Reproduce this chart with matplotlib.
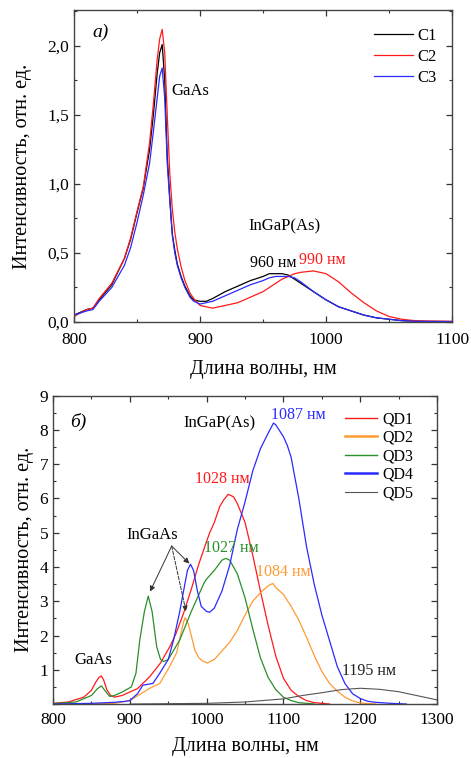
import matplotlib
matplotlib.use("Agg")
import matplotlib.pyplot as plt
from matplotlib.ticker import MultipleLocator, FuncFormatter

plt.rcParams['font.family'] = ['Liberation Serif', 'DejaVu Serif']
plt.rcParams['mathtext.fontset'] = 'stix'

# ---- panel a) data ----
wl_a = [800, 810, 815, 820, 830, 840, 845, 850, 855, 860, 863, 866, 868, 870, 872, 874,
        876, 878, 880, 882, 885, 888, 892, 895, 900, 905, 910, 920, 930, 940, 950, 955,
        960, 965, 970, 975, 980, 990, 1000, 1010, 1020, 1030, 1040, 1050, 1060, 1070,
        1080, 1100]
c1 = [0.05, 0.09, 0.10, 0.16, 0.27, 0.46, 0.60, 0.79, 0.97, 1.25, 1.50, 1.80, 1.95, 2.01,
      1.75, 1.20, 0.90, 0.64, 0.52, 0.42, 0.33, 0.26, 0.19, 0.16, 0.15, 0.15, 0.17, 0.22,
      0.26, 0.30, 0.33, 0.35, 0.35, 0.35, 0.34, 0.31, 0.28, 0.22, 0.16, 0.11, 0.08, 0.05,
      0.03, 0.02, 0.01, 0.006, 0.004, 0.003]
c2 = [0.04, 0.09, 0.10, 0.17, 0.28, 0.46, 0.61, 0.80, 0.98, 1.30, 1.58, 1.90, 2.05, 2.12,
      1.95, 1.50, 1.08, 0.82, 0.65, 0.53, 0.40, 0.30, 0.21, 0.17, 0.12, 0.11, 0.10, 0.12,
      0.14, 0.18, 0.22, 0.25, 0.28, 0.31, 0.33, 0.35, 0.36, 0.37, 0.35, 0.29, 0.21, 0.14,
      0.08, 0.04, 0.02, 0.01, 0.007, 0.005]
c3 = [0.05, 0.08, 0.09, 0.15, 0.25, 0.41, 0.54, 0.72, 0.92, 1.15, 1.38, 1.62, 1.78, 1.84,
      1.62, 1.15, 0.88, 0.63, 0.50, 0.41, 0.32, 0.25, 0.18, 0.15, 0.13, 0.14, 0.15, 0.19,
      0.23, 0.27, 0.30, 0.32, 0.33, 0.33, 0.33, 0.32, 0.29, 0.22, 0.16, 0.11, 0.08, 0.05,
      0.03, 0.02, 0.01, 0.006, 0.004, 0.003]

# ---- panel б) data ----
qd1_x = [800, 820, 840, 850, 856, 860, 863, 866, 870, 875, 880, 890, 896, 910, 926, 940,
         952, 960, 970, 980, 990, 1000, 1004, 1010, 1017, 1022, 1028, 1035, 1040, 1050,
         1060, 1070, 1080, 1090, 1100, 1110, 1120, 1130, 1140, 1160]
qd1_y = [0.02, 0.06, 0.20, 0.40, 0.65, 0.78, 0.82, 0.70, 0.42, 0.25, 0.20, 0.25, 0.31,
         0.45, 0.80, 1.20, 1.67, 2.05, 2.65, 3.35, 4.10, 4.75, 5.00, 5.30, 5.76, 5.95,
         6.12, 6.05, 5.85, 5.30, 4.35, 3.30, 2.30, 1.40, 0.75, 0.40, 0.22, 0.10, 0.04, 0.0]
qd2_x = [800, 880, 900, 926, 939, 952, 961, 966, 970, 972, 976, 980, 985, 990, 995, 1001,
         1010, 1020, 1030, 1040, 1050, 1060, 1070, 1080, 1086, 1090, 1100, 1110, 1120,
         1130, 1140, 1150, 1160, 1170, 1180, 1190, 1200, 1220]
qd2_y = [0.0, 0.02, 0.10, 0.46, 0.60, 1.10, 1.50, 2.00, 2.40, 2.52, 2.35, 2.00, 1.55,
         1.35, 1.25, 1.20, 1.30, 1.55, 1.80, 2.15, 2.60, 3.00, 3.25, 3.45, 3.52, 3.40,
         3.20, 2.85, 2.45, 1.95, 1.42, 0.95, 0.60, 0.38, 0.20, 0.09, 0.03, 0.0]
qd3_x = [800, 830, 850, 858, 863, 868, 874, 880, 890, 902, 908, 913, 919, 924, 929, 935,
         940, 944, 950, 965, 980, 990, 997, 1000, 1010, 1020, 1025, 1030, 1040, 1050,
         1060, 1070, 1080, 1090, 1100, 1110, 1120, 1140]
qd3_y = [0.01, 0.06, 0.25, 0.45, 0.53, 0.38, 0.22, 0.25, 0.35, 0.50, 0.90, 1.87, 2.70,
         3.15, 2.70, 1.67, 1.30, 1.24, 1.30, 1.87, 2.70, 3.20, 3.55, 3.65, 3.90, 4.20,
         4.25, 4.20, 3.80, 3.10, 2.20, 1.35, 0.78, 0.42, 0.20, 0.10, 0.04, 0.0]
qd4_x = [800, 850, 880, 895, 900, 910, 917, 930, 939, 950, 957, 965, 970, 975, 979, 983,
         988, 993, 1000, 1004, 1010, 1020, 1030, 1040, 1050, 1060, 1070, 1080, 1087, 1090,
         1100, 1105, 1110, 1120, 1130, 1140, 1150, 1160, 1170, 1180, 1190, 1200, 1210,
         1220, 1240, 1260]
qd4_y = [0.0, 0.02, 0.05, 0.08, 0.10, 0.30, 0.55, 0.60, 0.90, 1.30, 1.87, 2.70, 3.30,
         3.90, 4.08, 3.90, 3.30, 2.85, 2.70, 2.68, 2.80, 3.30, 4.05, 5.10, 5.90, 6.80,
         7.45, 7.90, 8.20, 8.15, 7.80, 7.55, 7.20, 6.00, 4.60, 3.50, 2.60, 1.85, 1.10,
         0.60, 0.30, 0.16, 0.08, 0.05, 0.02, 0.0]
qd5_x = [900, 950, 1000, 1050, 1100, 1125, 1150, 1175, 1200, 1225, 1250, 1275, 1300]
qd5_y = [0.0, 0.01, 0.02, 0.06, 0.15, 0.25, 0.33, 0.42, 0.46, 0.43, 0.36, 0.24, 0.12]


def style_axes(ax, xpad):
    ax.tick_params(which='both', direction='in', top=True, right=True,
                   color='#333333', labelsize=12.5)
    ax.tick_params(axis='x', pad=xpad)
    ax.tick_params(which='major', length=4.5, width=0.9)
    ax.tick_params(which='minor', length=2.5, width=0.8)
    for s in ax.spines.values():
        s.set_color('#444444')
        s.set_linewidth(1.0)


fig = plt.figure(figsize=(4.71, 7.58), dpi=100)

# ---------------- panel a) ----------------
ax = fig.add_axes([0.157, 0.5752, 0.803, 0.4116])
ax.plot(wl_a, c1, color='k', lw=0.9, label='C1')
ax.plot(wl_a, c2, color='#ff1a1a', lw=0.9, label='C2')
ax.plot(wl_a, c3, color='#2a2aff', lw=0.9, label='C3')
ax.set_xlim(800, 1100)
ax.set_ylim(0, 2.26)
ax.xaxis.set_major_locator(MultipleLocator(100))
ax.xaxis.set_minor_locator(MultipleLocator(50))
ax.yaxis.set_major_locator(MultipleLocator(0.5))
ax.yaxis.set_minor_locator(MultipleLocator(0.25))
ax.yaxis.set_major_formatter(FuncFormatter(lambda v, p: ('%.1f' % v).replace('.', ',')))
style_axes(ax, 7)
ax.set_xlabel('Длина волны, нм', fontsize=14.5, labelpad=9)
ax.set_ylabel('Интенсивность, отн. ед.', fontsize=14.5, labelpad=11)
ax.text(821, 2.10, 'а)', fontsize=14, style='italic', ha='center', va='center')
ax.text(892, 1.67, 'GaAs', fontsize=12, ha='center', va='center')
ax.text(967, 0.69, 'InGaP(As)', fontsize=12, ha='center', va='center')
ax.text(958, 0.43, '960 нм', fontsize=11.5, ha='center', va='center')
ax.text(997, 0.45, '990 нм', fontsize=11.5, ha='center', va='center', color='#ff1a1a')
ax.legend(loc='upper right', frameon=False, fontsize=12, handlelength=2.3,
          handletextpad=0.3, labelspacing=0.3, bbox_to_anchor=(1.0, 0.99))

# ---------------- panel б) ----------------
bx = fig.add_axes([0.1125, 0.0712, 0.8155, 0.4068])
bx.plot(qd1_x, qd1_y, color='#ff1a1a', lw=0.9, label='QD1')
bx.plot(qd2_x, qd2_y, color='#ff9a33', lw=0.9, label='QD2')
bx.plot(qd3_x, qd3_y, color='#2a8f2a', lw=0.9, label='QD3')
bx.plot(qd4_x, qd4_y, color='#2a2aff', lw=0.9, label='QD4')
bx.plot(qd5_x, qd5_y, color='#555555', lw=0.8, label='QD5')
bx.set_xlim(800, 1300)
bx.set_ylim(0, 9)
bx.xaxis.set_major_locator(MultipleLocator(100))
bx.xaxis.set_minor_locator(MultipleLocator(50))
bx.yaxis.set_major_locator(MultipleLocator(1))
bx.yaxis.set_minor_locator(MultipleLocator(0.5))
bx.yaxis.set_major_formatter(FuncFormatter(lambda v, p: '' if v == 0 else '%d' % v))
style_axes(bx, 6)
bx.set_xlabel('Длина волны, нм', fontsize=14.5, labelpad=6)
bx.set_ylabel('Интенсивность, отн. ед.', fontsize=14.5, labelpad=4)
bx.text(833, 8.24, 'б)', fontsize=14, style='italic', ha='center', va='center')
bx.text(853, 1.28, 'GaAs', fontsize=12, ha='center', va='center')
bx.text(1017, 8.2, 'InGaP(As)', fontsize=12, ha='center', va='center')
bx.text(929, 4.93, 'InGaAs', fontsize=12, ha='center', va='center')
bx.text(1119, 8.44, '1087 нм', fontsize=11.5, ha='center', va='center', color='#2a2aff')
bx.text(1021, 6.57, '1028 нм', fontsize=11.5, ha='center', va='center', color='#ff1a1a')
bx.text(1032, 4.55, '1027 нм', fontsize=11.5, ha='center', va='center', color='#2a8f2a')
bx.text(1100, 3.86, '1084 нм', fontsize=11.5, ha='center', va='center', color='#ff9a33')
bx.text(1211, 0.96, '1195 нм', fontsize=11.5, ha='center', va='center', color='#222222')

src = (954.5, 4.61)
for tgt, ls in [((926.3, 3.28), '-'), ((973.2, 2.70), '--'), ((977.5, 4.10), '-')]:
    bx.annotate('', xy=tgt, xytext=src,
                arrowprops=dict(arrowstyle='-|>', color='#333333', lw=0.7, ls=ls,
                                mutation_scale=8, shrinkA=0, shrinkB=0))

leg = bx.legend(loc='upper right', frameon=False, fontsize=11.5, handlelength=2.0,
                handletextpad=0.3, labelspacing=0.15, bbox_to_anchor=(0.975, 0.995))
for h, w in zip(leg.get_lines(), [1.0, 1.8, 1.0, 1.8, 0.8]):
    h.set_linewidth(w)

fig.savefig('out.png', dpi=100)
